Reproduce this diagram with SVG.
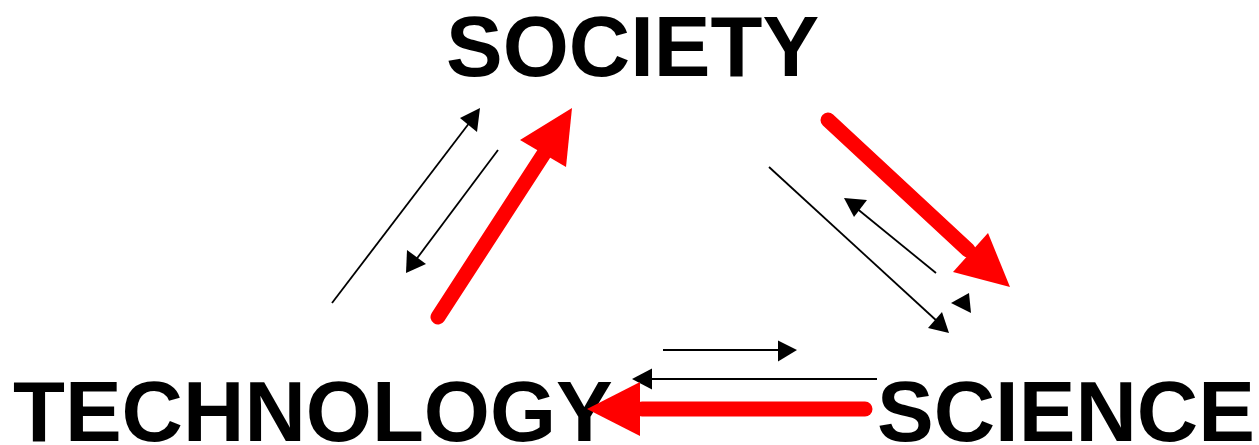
<svg xmlns="http://www.w3.org/2000/svg" width="1259" height="445" viewBox="0 0 1259 445">
<style>
.lbl{font-family:"Liberation Sans",Arial,sans-serif;font-weight:bold;font-size:85px;fill:#000}
.thin{stroke:#000;stroke-width:1.8;fill:none}
.thead{fill:#000}
.red{stroke:#ff0000;stroke-width:15;stroke-linecap:round;fill:none}
.rhead{fill:#ff0000}
</style>
<rect width="1259" height="445" fill="#fff"/>
<g id="society"><text class="lbl" x="446" y="76">SOCIETY</text></g>
<g id="technology"><text class="lbl" x="13" y="441">TECHNOLOGY</text></g>
<g id="science"><text class="lbl" x="877" y="441">SCIENCE</text></g>
<g id="connectors">
<line class="thin" x1="332" y1="303" x2="470" y2="122"/>
<polygon class="thead" points="480,108 460,118 477,132"/>
<line class="thin" x1="498" y1="150" x2="415" y2="261"/>
<polygon class="thead" points="406,273 407,250 426,264"/>
<line class="red" x1="438" y1="317" x2="545" y2="152"/>
<polygon class="rhead" points="572,108 520,140 566,167"/>
<line class="red" x1="828" y1="120" x2="968" y2="250"/>
<polygon class="rhead" points="1010,287 953,272 988,233"/>
<line class="thin" x1="769" y1="167" x2="938" y2="322"/>
<polygon class="thead" points="949,333 928,328 942,312"/>
<line class="thin" x1="936" y1="273" x2="855" y2="207"/>
<polygon class="thead" points="844,198 854,217 867,200"/>
<polygon class="thead" points="951,303 969,293 971,313"/>
<line class="thin" x1="663" y1="350" x2="780" y2="350"/>
<polygon class="thead" points="797,350 778,340.5 778,361.5"/>
<line class="thin" x1="877" y1="379" x2="650" y2="379"/>
<polygon class="thead" points="632,379 652,368.5 652,389.5"/>
<line class="red" x1="865" y1="409" x2="642" y2="409"/>
<polygon class="rhead" points="587,409 640,382 640,436"/>
</g>
</svg>
